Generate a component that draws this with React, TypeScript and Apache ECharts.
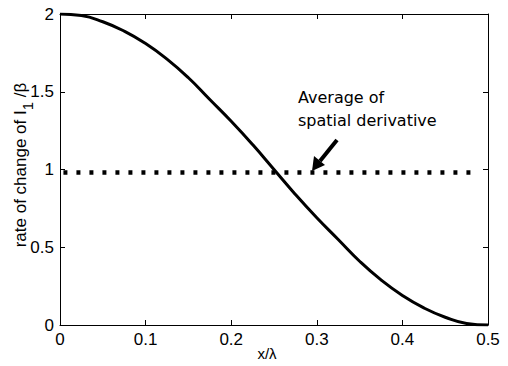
import React, { useEffect, useRef } from "react";
import * as echarts from "echarts";

const xValues = [0, 0.025, 0.05, 0.075, 0.1, 0.125, 0.15, 0.175, 0.2, 0.225, 0.25, 0.275, 0.3, 0.325, 0.35, 0.375, 0.4, 0.425, 0.45, 0.475, 0.5];
const rateValues = [2.0, 1.99, 1.95, 1.89, 1.81, 1.71, 1.59, 1.45, 1.31, 1.16, 1.0, 0.84, 0.69, 0.55, 0.41, 0.29, 0.19, 0.11, 0.05, 0.01, 0.0];
const averageX = [0.004, 0.49];
const averageValue = 0.98;
const xTicks = [0, 0.1, 0.2, 0.3, 0.4, 0.5];
const yTicks = [0, 0.5, 1, 1.5, 2];
const xName = "x/λ";
const yName = "rate of change of I{sub|1} /β";
const note = "Average of\nspatial derivative";

export default function App() {
  const ref = useRef<HTMLDivElement>(null);
  useEffect(() => {
    if (!ref.current) return;
    const chart = echarts.init(ref.current, null, { renderer: "svg" });
    const font = "'Liberation Sans', Arial, sans-serif";
    const mainAxis = {
      axisLine: { show: true, onZero: false, lineStyle: { color: "#000", width: 1 } },
      axisTick: { show: true, inside: true, length: 5, lineStyle: { color: "#000" } },
      splitLine: { show: false },
    };
    chart.setOption({
      animation: false,
      backgroundColor: "#fff",
      grid: { left: 60, right: 20, top: 14, bottom: 41, outerBoundsMode: "none", containLabel: false },
      xAxis: [
        {
          type: "value", min: 0, max: 0.5, interval: 0.1, ...mainAxis,
          axisLabel: { color: "#000", fontSize: 17, fontFamily: font, margin: 6, formatter: (v: number) => xTicks.includes(+v.toFixed(1)) ? String(+v.toFixed(1)) : "" },
        },
        {
          type: "value", position: "top", min: 0, max: 0.5, interval: 0.1, ...mainAxis,
          axisLabel: { show: false },
        },
      ],
      yAxis: [
        {
          type: "value", min: 0, max: 2, interval: 0.5, ...mainAxis,
          axisLabel: { color: "#000", fontSize: 17, fontFamily: font, margin: 6, formatter: (v: number) => yTicks.includes(v) ? String(v) : "" },
        },
        {
          type: "value", position: "right", min: 0, max: 2, interval: 0.5, ...mainAxis,
          axisLabel: { show: false },
        },
      ],
      series: [
        {
          type: "line",
          data: xValues.map((x, i) => [x, rateValues[i]]),
          showSymbol: false,
          smooth: true,
          lineStyle: { color: "#000", width: 3 },
        },
        {
          type: "line",
          data: averageX.map((x) => [x, averageValue]),
          showSymbol: false,
          lineStyle: { color: "#000", width: 4.5, type: [4, 9] },
        },
      ],
      graphic: [
        {
          type: "text", x: 267, y: 346,
          style: { text: xName, fontSize: 15, fontFamily: font, fill: "#000", align: "center", verticalAlign: "top" },
        },
        {
          type: "text", x: 20, y: 165, rotation: Math.PI / 2,
          style: {
            text: yName, fontSize: 17, fontFamily: font, fill: "#000", align: "center", verticalAlign: "middle", lineHeight: 30,
            rich: { sub: { fontSize: 15, fontFamily: font, fill: "#000", verticalAlign: "bottom", lineHeight: 16 } },
          },
        },
        {
          type: "text", left: 298, top: 86,
          style: { text: note, fontSize: 16, fontFamily: "'DejaVu Sans', Verdana, sans-serif", fill: "#000", lineHeight: 23 },
        },
        {
          type: "line",
          shape: { x1: 337, y1: 140, x2: 320, y2: 161 },
          style: { stroke: "#000", lineWidth: 4 },
        },
        {
          type: "polygon",
          shape: { points: [[312, 171], [314, 156], [325, 165]] },
          style: { fill: "#000" },
        },
      ],
    });
    return () => chart.dispose();
  }, []);
  return <div ref={ref} style={{ width: 508, height: 366, position: "absolute", left: 0, top: 0 }} />;
}
